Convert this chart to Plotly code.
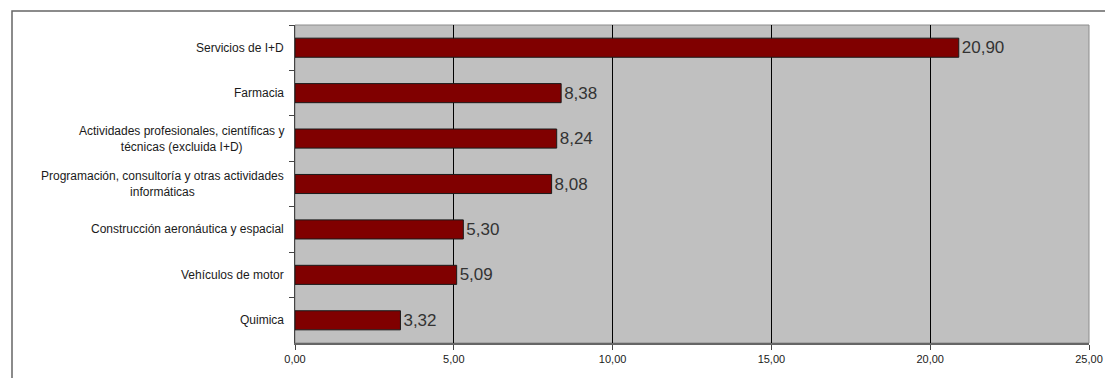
import plotly.graph_objects as go

categories = [
    "Servicios de I+D",
    "Farmacia",
    "Actividades profesionales, científicas y<br>técnicas (excluida I+D)",
    "Programación, consultoría y otras actividades<br>informáticas",
    "Construcción aeronáutica y espacial",
    "Vehículos de motor",
    "Quimica",
]
values = [20.90, 8.38, 8.24, 8.08, 5.30, 5.09, 3.32]
x_ticks = [0, 5, 10, 15, 20, 25]

W, H = 1105, 378
ml, mr, mt, mb = 295, 16, 25, 35
pw, ph = W - ml - mr, H - mt - mb

fig = go.Figure()
fig.add_trace(go.Bar(
    x=values, y=categories, orientation="h",
    marker=dict(color="#800000", line=dict(color="#1a1a1a", width=1)),
    texttemplate="%{x:.2f}", textposition="outside", constraintext="none",
    textfont=dict(family="Liberation Sans, Arial", size=17, color="#333333"),
    cliponaxis=False, hoverinfo="skip",
))

for c in categories:
    fig.add_annotation(
        x=0, xref="paper", y=c, yref="y", text=c, showarrow=False,
        xanchor="right", yanchor="middle", align="center", xshift=-9,
        font=dict(family="Liberation Sans, Arial", size=12, color="#1a1a1a"),
    )

# plot area border (light) and outer frame
fig.add_shape(type="rect", xref="paper", yref="paper", x0=0, x1=1, y0=0, y1=1,
              line=dict(color="#8c8c8c", width=1), layer="below")
fig.add_shape(type="rect", xref="paper", yref="paper",
              x0=(12 - ml) / pw, x1=(1112 - ml) / pw,
              y0=-(H + 10 - (H - mb)) / ph, y1=1 + (mt - 11) / ph,
              line=dict(color="#666666", width=1.5))

fig.update_layout(
    width=W, height=H,
    margin=dict(l=ml, r=mr, t=mt, b=mb, autoexpand=False),
    paper_bgcolor="white", plot_bgcolor="#c0c0c0",
    separators=",.",
    bargap=0.58, showlegend=False,
    font=dict(family="Liberation Sans, Arial", size=11, color="#1a1a1a"),
    xaxis=dict(range=[0, 25], tickvals=x_ticks, tickformat=".2f", automargin=False,
               showgrid=True, gridcolor="#000000", gridwidth=1,
               zeroline=False, showline=True, linecolor="#666666", linewidth=2,
               ticks="outside", ticklen=5, tickcolor="#444444",
               tickfont=dict(size=11, color="#1a1a1a"), fixedrange=True),
    yaxis=dict(autorange="reversed", showticklabels=False, automargin=False,
               ticks="outside", tickson="boundaries", ticklen=5, tickcolor="#444444",
               showline=True, linecolor="#444444", linewidth=1,
               showgrid=False, zeroline=False, fixedrange=True),
)

fig.write_html("out.html")
